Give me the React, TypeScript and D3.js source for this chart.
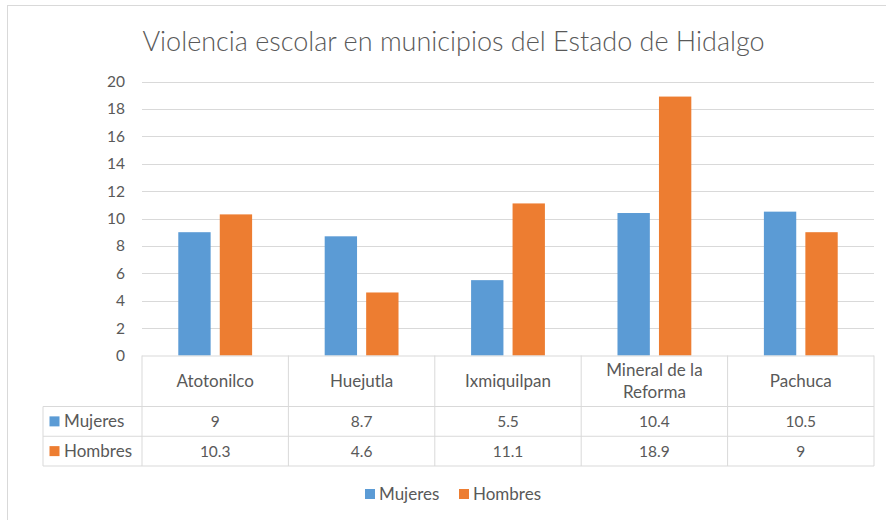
import React from 'react';
import * as d3 from 'd3';

const categories = ['Atotonilco', 'Huejutla', 'Ixmiquilpan', 'Mineral de la Reforma', 'Pachuca'];
const seriesNames = ['Mujeres', 'Hombres'];
const mujeres = [9, 8.7, 5.5, 10.4, 10.5];
const hombres = [10.3, 4.6, 11.1, 18.9, 9];
const yTicks = [0, 2, 4, 6, 8, 10, 12, 14, 16, 18, 20];
const colors = ['#5B9BD5', '#ED7D31'];

const W = 886, H = 520;
const font = 'Lato, "Open Sans", sans-serif';
const textColor = '#595959';
const gridColor = '#d9d9d9';

export default function App() {
  const values = [mujeres, hombres];
  const plot = { left: 142, right: 874, top: 81.5, bottom: 355.5 };

  const x = d3.scaleBand<string>().domain(categories).range([plot.left, plot.right]).padding(0);
  const xs = d3.scaleBand<string>().domain(seriesNames).range([0, x.bandwidth()])
    .paddingInner(0.22).paddingOuter(0.875);
  const y = d3.scaleLinear().domain([0, 20]).range([plot.bottom, plot.top]);

  const headerBottom = 406.5;
  const rowH = 29.75;
  const labelLeft = 43;
  const wordSize = 17;
  const numSize = 15.5;

  // wrap long category names like Excel does
  const wrap = (s: string) => (s.length > 14 ? ['Mineral de la', 'Reforma'] : [s]);

  return (
    <svg width={W} height={H} style={{ position: 'absolute', left: 0, top: 0, background: '#fff' }}
      fontFamily={font}>
      <rect x={7.5} y={5.5} width={W} height={H} fill="#fff" stroke={gridColor} />
      <text x={453.5} y={51} textAnchor="middle" fontSize={27} fill={textColor} fontWeight={300}>
        Violencia escolar en municipios del Estado de Hidalgo
      </text>

      {/* gridlines and y labels */}
      {yTicks.map(t => (
        <g key={t}>
          {t > 0 && (
            <line x1={plot.left} x2={plot.right} y1={Math.round(y(t)) + 0.5} y2={Math.round(y(t)) + 0.5}
              stroke={gridColor} />
          )}
          <text x={125} y={y(t)} dy="0.35em" textAnchor="end" fontSize={numSize} fill={textColor}>{t}</text>
        </g>
      ))}

      {/* bars */}
      {values.map((vals, si) => (
        <g key={si} fill={colors[si]}>
          {vals.map((v, i) => (
            <rect key={i} x={x(categories[i])! + xs(seriesNames[si])!} width={xs.bandwidth()}
              y={y(v)} height={y(0) - y(v)} />
          ))}
        </g>
      ))}

      {/* data table */}
      <g stroke={gridColor} fill="none">
        <line x1={plot.left} x2={plot.right} y1={plot.bottom + 0.5} y2={plot.bottom + 0.5} />
        <line x1={labelLeft} x2={plot.right} y1={headerBottom} y2={headerBottom} />
        <line x1={labelLeft} x2={plot.right} y1={headerBottom + rowH} y2={headerBottom + rowH} />
        <line x1={labelLeft} x2={plot.right} y1={headerBottom + 2 * rowH} y2={headerBottom + 2 * rowH} />
        <line x1={labelLeft} x2={labelLeft} y1={headerBottom} y2={headerBottom + 2 * rowH} />
        {categories.map(c => (
          <line key={c} x1={x(c)!} x2={x(c)!} y1={plot.bottom} y2={headerBottom + 2 * rowH} />
        ))}
        <line x1={plot.right} x2={plot.right} y1={plot.bottom} y2={headerBottom + 2 * rowH} />
      </g>
      {categories.map(c => {
        const lines = wrap(c);
        const cx = x(c)! + x.bandwidth() / 2;
        const mid = (plot.bottom + headerBottom) / 2;
        return (
          <text key={c} x={cx} textAnchor="middle" fontSize={wordSize} fill={textColor}>
            {lines.map((l, k) => (
              <tspan key={k} x={cx} y={mid + (k - (lines.length - 1) / 2) * 22} dy="0.35em">{l}</tspan>
            ))}
          </text>
        );
      })}
      {values.map((vals, si) => {
        const cy = headerBottom + rowH * si + rowH / 2;
        return (
          <g key={si}>
            <rect x={49.5} y={cy - 5} width={10} height={10} fill={colors[si]} />
            <text x={64} y={cy} dy="0.35em" fontSize={wordSize} fill={textColor}>{seriesNames[si]}</text>
            {vals.map((v, i) => (
              <text key={i} x={x(categories[i])! + x.bandwidth() / 2} y={cy} dy="0.35em" textAnchor="middle"
                fontSize={numSize} fill={textColor}>{v}</text>
            ))}
          </g>
        );
      })}

      {/* legend */}
      {seriesNames.map((s, si) => {
        const lx = [365, 459][si];
        return (
          <g key={s}>
            <rect x={lx} y={489} width={10} height={10} fill={colors[si]} />
            <text x={lx + 14} y={494} dy="0.35em" fontSize={wordSize} fill={textColor}>{s}</text>
          </g>
        );
      })}
    </svg>
  );
}
